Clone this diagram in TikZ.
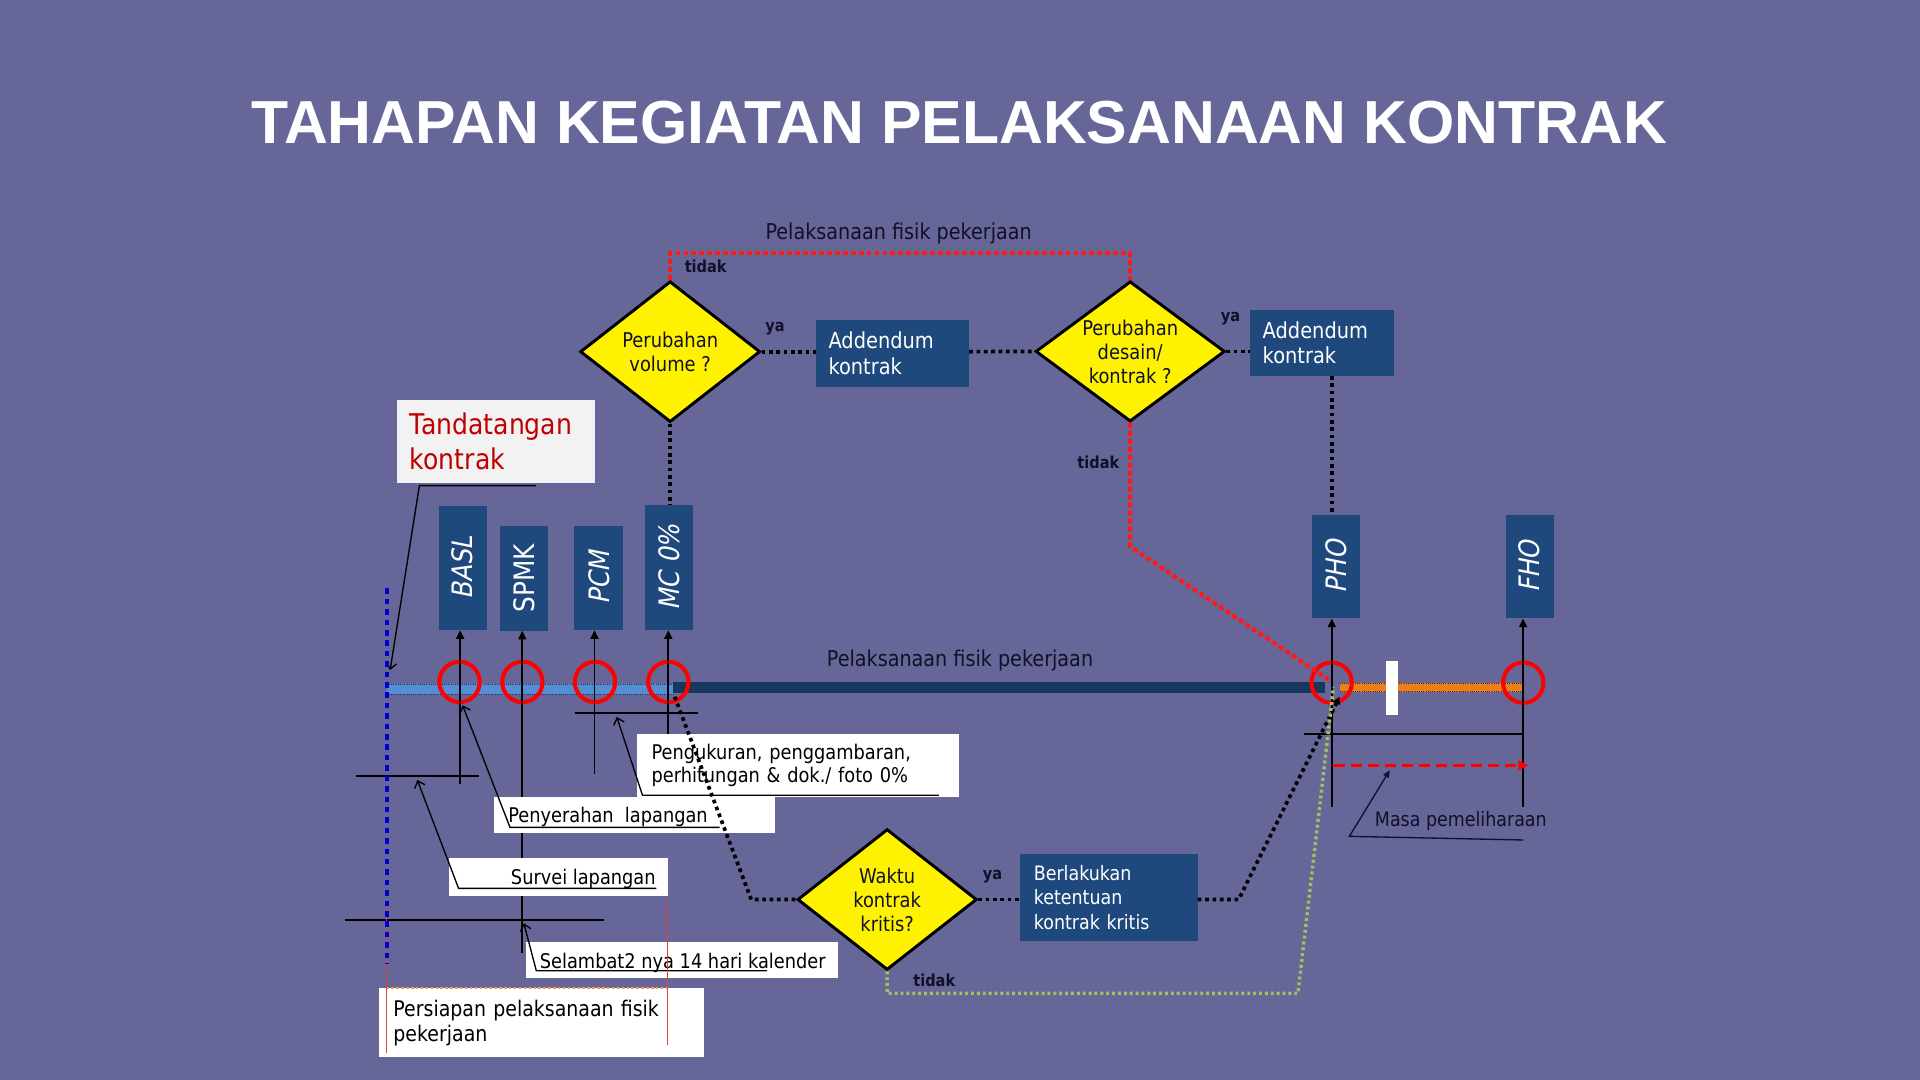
\documentclass[tikz,border=0pt]{standalone}
\usepackage{fontspec}
\setmainfont{DejaVu Sans}[FakeStretch=0.88]
\newfontfamily\slantfont{DejaVu Sans}[FakeStretch=0.88,FakeSlant=0.2]
\newfontfamily\titlefont{Liberation Sans}
\usetikzlibrary{shapes.geometric,arrows.meta}
\definecolor{bg}{HTML}{666699}
\definecolor{navy}{HTML}{1F497D}
\definecolor{barnavy}{HTML}{17375E}
\definecolor{lblue}{HTML}{558ED5}
\definecolor{orng}{HTML}{E8801E}
\definecolor{orng2}{HTML}{F79646}
\definecolor{dotred}{HTML}{FF1A1A}
\definecolor{ringred}{HTML}{FF0000}
\definecolor{thinred}{HTML}{E04040}
\definecolor{grn}{HTML}{A4C05C}
\definecolor{dkred}{HTML}{C00000}
\definecolor{txt}{HTML}{101028}
\definecolor{tbox}{HTML}{F2F2F2}
\definecolor{dotblue}{HTML}{0000D0}
\begin{document}
\begin{tikzpicture}[x=1pt,y=-1pt,
  nbox/.style={fill=navy, text=white, inner xsep=10pt, inner ysep=0pt, align=left, font=\fontsize{18}{21}\selectfont},
  wbox/.style={fill=white, text=black, inner xsep=11.5pt, inner ysep=0pt, align=left, font=\fontsize{16.5}{18.3}\selectfont},
  plainbox/.style={fill=white, inner sep=0pt},
  vbox/.style={fill=navy, text=white, rotate=90, inner sep=0pt, font=\slantfont\fontsize{23}{26}\selectfont},
  dec/.style={diamond, aspect=1.33, draw=black, line width=2.4pt, fill=yellow, inner sep=0pt, align=center, text=txt, font=\fontsize{16.6}{19.6}\selectfont},
  ring/.style={circle, draw=ringred, line width=3.3pt, minimum size=33pt, inner sep=0pt},
  ctext/.style={anchor=base west, inner sep=0pt, text=black, font=\fontsize{16.5}{19}\selectfont},
  lbl/.style={anchor=base, inner sep=0pt, text=txt, font=\fontsize{17.8}{20}\selectfont},
  yn/.style={inner sep=0pt, text=txt, font=\bfseries\fontsize{13.5}{16}\selectfont},
  bdots/.style={draw=black, line width=3pt, dash pattern=on 3pt off 3pt},
  rdots/.style={draw=dotred, line width=3.5pt, dash pattern=on 4pt off 2.5pt},
  gdots/.style={draw=grn, line width=2.8pt, dash pattern=on 2.4pt off 2.4pt},
  uparr/.style={draw=black, line width=1.5pt, -{Triangle[length=7pt,width=6.5pt]}},
  blk/.style={draw=black, line width=1.5pt},
  leader/.style={draw=black, line width=1.1pt, -{Straight Barb[length=5pt,width=9pt]}},
]
\fill[bg] (0,0) rectangle (1568,882);
\useasboundingbox (0,0) rectangle (1568,882);

% title
\node[inner sep=0pt, text=white, font=\titlefont\bfseries\fontsize{49.6}{58}\selectfont] (title) at (783.5,100) {TAHAPAN KEGIATAN PELAKSANAAN KONTRAK};

% upper nodes
\node[dec, minimum width=147pt, minimum height=115pt] (d1) at (547.3,287.2) {Perubahan\\volume ?};
\node[dec, minimum width=154.5pt, minimum height=114.5pt] (d2) at (923,287) {Perubahan\\desain/\\kontrak ?};
\node[nbox, minimum width=124.7pt, minimum height=54.5pt, text width=104.7pt] (add1) at (728.95,288.55) {Addendum\\kontrak};
\node[nbox, minimum width=117.9pt, minimum height=53.6pt, text width=96.9pt, inner xsep=10.5pt] (add2) at (1079.65,280) {Addendum\\kontrak};
\node[nbox, fill=tbox, text=dkred, font=\fontsize{23.3}{28.6}\selectfont, minimum width=161.5pt, minimum height=68pt, text width=140.3pt, inner xsep=10.6pt] (ttd) at (404.95,360.7) {Tandatangan\\kontrak};

% vertical boxes
\node[vbox, minimum width=101.3pt, minimum height=39.2pt] (basl) at (377.8,463.85) {BASL};
\node[vbox, font=\fontsize{23}{26}\selectfont, minimum width=85.4pt, minimum height=38.9pt] (spmk) at (428.05,472.3) {SPMK};
\node[vbox, minimum width=84.9pt, minimum height=40pt] (pcm) at (489,472.05) {PCM};
\node[vbox, minimum width=102.1pt, minimum height=39.4pt] (mc) at (546.5,463.45) {MC 0\%};
\node[vbox, minimum width=84.4pt, minimum height=39pt] (pho) at (1090.9,462.8) {PHO};
\node[vbox, minimum width=84.4pt, minimum height=39.4pt] (fho) at (1249.2,462.8) {FHO};

% upper connectors
\coordinate (rt1) at (547.3,206.9);
\coordinate (rt2) at (923,206.9);
\draw[rdots] (d1.north) -- (rt1) -- (rt2) -- (d2.north);
\draw[bdots] (d1.east) -- (add1.west |- d1.east);
\draw[bdots] (add1.east |- d1.east) -- (d2.west);
\draw[bdots] (d2.east) -- (add2.west |- d2.east);
\draw[bdots] (d1.south) -- (d1.south |- mc.east);
\coordinate (phox) at (1087.6,659);
\draw[bdots] (add2.south -| phox) -- (pho.east -| phox);

% timeline bars
\fill[lblue] (315.8,558.6) rectangle (549.9,566.8);
\draw[draw=barnavy, line width=0.8pt, densely dotted] (315.8,558.6) -- (549.9,558.6) (315.8,566.8) -- (549.9,566.8);
\fill[barnavy] (549.9,556.6) rectangle (1082,565.8);
\fill[orng] (1094,558) rectangle (1243.5,565);
\draw[draw=black!70!orng, line width=0.8pt, densely dotted] (1094,558) -- (1243.5,558) (1094,565) -- (1243.5,565);
\fill[white] (1132,539.6) rectangle (1142,584);

% rings
\node[ring] (c1) at (375.3,556.9) {};
\node[ring] (c2) at (426.6,556.9) {};
\node[ring] (c3) at (485.9,556.9) {};
\node[ring] (c4) at (545.8,556.9) {};
\node[ring] (c5) at (1087.5,557.5) {};
\node[ring] (c6) at (1244,557.5) {};

% vertical arrows
\coordinate (v1) at (375.8,640);
\coordinate (v2) at (426.5,778.5);
\coordinate (v3) at (485.5,632.5);
\coordinate (v4) at (545.8,599.5);
\coordinate (v6) at (1243.8,659);
\draw[uparr] (v1) -- (v1 |- basl.west);
\draw[uparr] (v2) -- (v2 |- spmk.west);
\draw[uparr] (v3) -- (v3 |- pcm.west);
\draw[uparr] (v4) -- (v4 |- mc.west);
\draw[uparr] (phox) -- (phox |- pho.west);
\draw[uparr] (v6) -- (v6 |- fho.west);

% brackets
\coordinate (b1a) at (290.7,633.7); \coordinate (b1b) at (391.4,633.7);
\coordinate (b2a) at (281.5,751.3); \coordinate (b2b) at (493.3,751.3);
\coordinate (b3a) at (469.5,582.4); \coordinate (b3b) at (570.3,582.4);
\coordinate (b4a) at (1065,599.5); \coordinate (b4b) at (1243.8,599.5);
\draw[blk] (b1a) -- (b1b);
\draw[blk] (b2a) -- (b2b);
\draw[blk] (b3a) -- (b3b);
\draw[blk] (b4a) -- (b4b);

% maintenance arrow
\coordinate (m1) at (1089,625); \coordinate (m2) at (1248,625);
\draw[draw=ringred, line width=2.6pt, dash pattern=on 9pt off 5pt, -{Triangle[length=8pt,width=8pt]}] (m1) -- (m2);

% callout boxes
\node[wbox, minimum width=262.5pt, minimum height=51.1pt, text width=239.3pt, inner xsep=11.6pt] (peng) at (651.75,625.05) {Pengukuran, penggambaran,\\perhitungan \& dok./ foto 0\%};
\node[plainbox, minimum width=229.3pt, minimum height=30pt] (pyb) at (518.25,665.6) {};
\node[ctext] (pyt) at (414.9,671.8) {Penyerahan\ \ lapangan};
\node[plainbox, minimum width=179.3pt, minimum height=30.7pt] (svb) at (456.05,716.35) {};
\node[ctext] (svt) at (417.1,722.7) {Survei lapangan};
\node[plainbox, minimum width=255.1pt, minimum height=30pt] (slb) at (556.95,784) {};
\node[ctext] (slt) at (440.7,790.8) {Selambat2 nya 14 hari kalender};
\node[wbox, minimum width=264.9pt, minimum height=55.8pt, text width=242.1pt, inner xsep=11.4pt, font=\fontsize{17.6}{20.4}\selectfont] (prs) at (442.35,835.1) {Persiapan pelaksanaan fisik\\pekerjaan};

% leaders
\coordinate (tt1) at (437.7,396.6); \coordinate (tt2) at (342.5,396.6); \coordinate (tt3) at (318.6,547.2);
\coordinate (py1) at (587.7,675.7); \coordinate (py2) at (416.5,675.7); \coordinate (py3) at (377.8,576);
\coordinate (sv1) at (536,725.5); \coordinate (sv2) at (374.5,725.5); \coordinate (sv3) at (340.8,637);
\coordinate (sl1) at (626.4,792.8); \coordinate (sl2) at (438,792.8); \coordinate (sl3) at (427.8,754);
\coordinate (pg1) at (766.8,649.5); \coordinate (pg2) at (524.7,649.5); \coordinate (pg3) at (503.7,585.5);
\coordinate (ms1) at (1244,686); \coordinate (ms2) at (1102,683); \coordinate (ms3) at (1135,629);
\draw[leader] (tt1) -- (tt2) -- (tt3);
\draw[leader] (py1) -- (py2) -- (py3);
\draw[leader] (sv1) -- (sv2) -- (sv3);
\draw[leader] (sl1) -- (sl2) -- (sl3);
\draw[leader] (pg1) -- (pg2) -- (pg3);
\draw[draw=txt, line width=1.1pt, -{Triangle[length=6pt,width=5pt]}] (ms1) -- (ms2) -- (ms3);
\node[lbl, font=\fontsize{16.2}{19}\selectfont] (masa) at (1193,675) {Masa pemeliharaan};

% persiapan lines
\draw[draw=orng2, line width=2pt, dash pattern=on 2pt off 2pt] (prs.north west -| 315.7,0) -- (prs.north west -| 545,0);
\draw[draw=thinred, line width=1pt] (315.7,740) -- (315.7,860);
\draw[draw=thinred, line width=1pt] (545,735) -- (545,853.5);
\draw[draw=dotblue, line width=3pt, dash pattern=on 4.5pt off 4pt] (315.8,480.5) -- (315.8,787);

% lower nodes
\node[dec, minimum width=146.5pt, minimum height=115pt] (d3) at (724.5,734.6) {Waktu\\kontrak\\kritis?};
\node[nbox, font=\fontsize{16.2}{19.8}\selectfont, minimum width=144.7pt, minimum height=70.5pt, text width=122.7pt, inner xsep=11pt] (berl) at (905.65,732.95) {Berlakukan\\ketentuan\\kontrak kritis};

% lower connectors
\coordinate (mcs) at (551,569);
\coordinate (mck) at (613.5,734.6);
\draw[bdots] (mcs) -- (mck) -- (d3.west);
\draw[bdots] (d3.east) -- (berl.west |- d3.east);
\coordinate (bk) at (1011.5,734.6);
\coordinate (bp) at (1094,569);
\draw[bdots, -{Triangle[length=6pt,width=6pt]}] (berl.east |- d3.east) -- (bk) -- (bp);
\coordinate (rd1) at (923,446.4);
\coordinate (rd2) at (1085,555);
\draw[rdots] (d2.south) -- (rd1) -- (rd2);
\coordinate (g1) at (724.5,811.2);
\coordinate (g2) at (1060,811.2);
\coordinate (g3) at (1089,561);
\draw[gdots] (d3.south) -- (g1) -- (g2) -- (g3);

% labels
\node[lbl] (toplbl) at (733.9,196) {Pelaksanaan fisik pekerjaan};
\node[lbl] (midlbl) at (784,544.5) {Pelaksanaan fisik pekerjaan};
\node[yn] (t1) at (576.3,217.8) {tidak};
\node[yn] (y1) at (633,268.7) {ya};
\node[yn] (y2) at (1005,260.5) {ya};
\node[yn] (t2) at (897,377.8) {tidak};
\node[yn] (y3) at (810.5,716) {ya};
\node[yn] (t3) at (763,800.3) {tidak};
\end{tikzpicture}
\end{document}
